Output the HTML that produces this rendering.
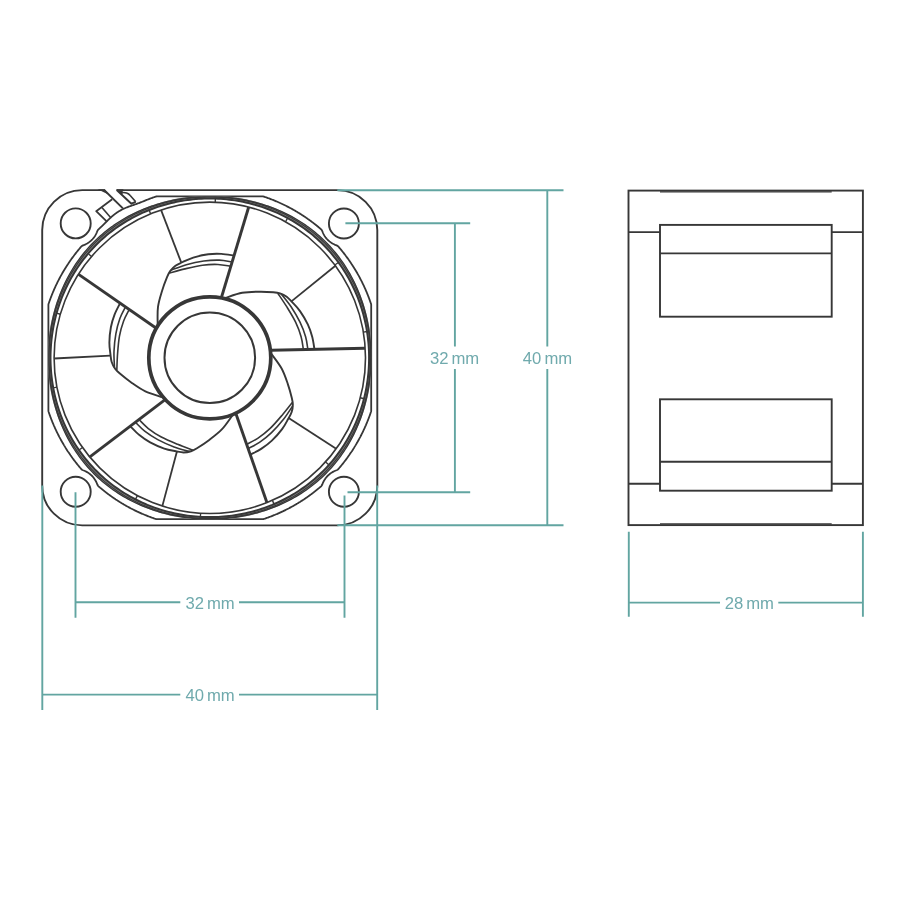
<!DOCTYPE html><html><head><meta charset="utf-8"><title>Fan dimensions</title><style>html,body{margin:0;padding:0;background:#fff;}body{width:900px;height:900px;overflow:hidden;font-family:"Liberation Sans",sans-serif;}svg{display:block;}</style></head><body>
<svg width="900" height="900" viewBox="0 0 900 900">
<rect width="900" height="900" fill="#fff"/>
<g fill="none" stroke="#373737" stroke-linecap="butt" stroke-linejoin="round">
<path d="M116.7,190.1 L337.3,190.1 A40,40 0 0 1 377.3,230.1 L377.3,485.4 A40,40 0 0 1 337.3,525.4 L82.2,525.4 A40,40 0 0 1 42.2,485.4 L42.2,230.1 A40,40 0 0 1 82.2,190.1 L103.9,190.1" stroke-width="1.9"/>
<circle cx="75.7" cy="223.4" r="15" stroke-width="1.9"/>
<circle cx="343.9" cy="223.5" r="15" stroke-width="1.9"/>
<circle cx="75.7" cy="491.8" r="15" stroke-width="1.9"/>
<circle cx="343.9" cy="491.8" r="15" stroke-width="1.9"/>
<path d="M103.9,189.7 L122.9,208.4" stroke-width="1.9"/>
<path d="M97.5,189.2 L104.8,189.2 L108.5,194.4 Z" fill="#373737" stroke="none"/>
<path d="M116.7,190 L131.4,203.7 L135.7,201.8" stroke-width="1.9"/>
<path d="M116.0,189.2 L123.5,189.2 L121.8,194.6 Z" fill="#373737" stroke="none"/>
<path d="M121.4,193.6 C122.2,192.2 124.4,192.3 126.6,193 Q128.8,193.8 130.2,195.5 L135.7,201.8" stroke-width="1.6"/>
<path d="M112.2,199.3 L96.2,211.2 L106.4,221.2" stroke-width="1.8"/>
<path d="M101.9,207.4 L110.6,217.6" stroke-width="1.6"/>
<defs><path id="cp" d="M48.40,357.80 L48.40,357.24 L48.40,356.67 L48.40,356.11 L48.40,355.55 L48.40,354.98 L48.40,354.42 L48.40,353.86 L48.40,353.29 L48.40,352.73 L48.40,352.16 L48.40,351.60 L48.40,351.04 L48.40,350.47 L48.40,349.91 L48.40,349.34 L48.40,348.78 L48.40,348.21 L48.40,347.65 L48.40,347.08 L48.40,346.51 L48.40,345.95 L48.40,345.38 L48.40,344.81 L48.40,344.25 L48.40,343.68 L48.40,343.11 L48.40,342.54 L48.40,341.97 L48.40,341.41 L48.40,340.84 L48.40,340.27 L48.40,339.70 L48.40,339.13 L48.40,338.55 L48.40,337.98 L48.40,337.41 L48.40,336.84 L48.40,336.26 L48.40,335.69 L48.40,335.12 L48.40,334.54 L48.40,333.97 L48.40,333.39 L48.40,332.81 L48.40,332.24 L48.40,331.66 L48.40,331.08 L48.40,330.50 L48.40,329.92 L48.40,329.34 L48.40,328.76 L48.40,328.18 L48.40,327.59 L48.40,327.01 L48.40,326.43 L48.40,325.84 L48.40,325.26 L48.40,324.67 L48.40,324.08 L48.40,323.49 L48.40,322.90 L48.40,322.31 L48.40,321.72 L48.40,321.13 L48.40,320.54 L48.40,319.94 L48.40,319.35 L48.40,318.75 L48.40,318.16 L48.40,317.56 L48.40,316.96 L48.40,316.36 L48.40,315.76 L48.40,315.16 L48.40,314.55 L48.40,313.95 L48.40,313.34 L48.40,312.74 L48.40,312.13 L48.40,311.52 L48.40,310.91 L48.40,310.30 L48.40,309.68 L48.40,309.07 L48.40,308.46 L48.40,307.84 L48.40,307.22 L48.40,306.60 L48.40,305.98 L48.40,305.36 L48.40,304.73 L48.49,304.14 L48.68,303.58 L48.87,303.01 L49.06,302.45 L49.26,301.89 L49.45,301.33 L49.65,300.77 L49.85,300.21 L50.05,299.66 L50.26,299.10 L50.46,298.54 L50.67,297.99 L50.88,297.43 L51.09,296.88 L51.30,296.32 L51.52,295.77 L51.74,295.22 L51.96,294.67 L52.18,294.12 L52.40,293.57 L52.63,293.02 L52.85,292.47 L53.08,291.92 L53.31,291.38 L53.55,290.83 L53.78,290.28 L54.02,289.74 L54.26,289.20 L54.50,288.65 L54.74,288.11 L54.98,287.57 L55.23,287.03 L55.48,286.49 L55.73,285.95 L55.98,285.42 L56.23,284.88 L56.49,284.35 L56.75,283.81 L57.01,283.28 L57.27,282.74 L57.53,282.21 L57.79,281.68 L58.06,281.15 L58.33,280.62 L58.60,280.09 L58.87,279.57 L59.15,279.04 L59.42,278.51 L59.70,277.99 L59.98,277.47 L60.26,276.94 L60.54,276.42 L60.83,275.90 L61.11,275.38 L61.40,274.86 L61.69,274.35 L61.99,273.83 L62.28,273.31 L62.58,272.80 L62.87,272.29 L63.17,271.77 L63.47,271.26 L63.78,270.75 L64.08,270.24 L64.39,269.74 L64.70,269.23 L65.01,268.72 L65.32,268.22 L65.63,267.71 L65.95,267.21 L66.26,266.71 L66.58,266.21 L66.90,265.71 L67.23,265.21 L67.55,264.71 L67.88,264.22 L68.20,263.72 L68.53,263.23 L68.86,262.74 L69.20,262.25 L69.53,261.76 L69.87,261.27 L70.20,260.78 L70.54,260.29 L70.89,259.81 L71.23,259.32 L71.57,258.84 L71.92,258.36 L72.27,257.88 L72.62,257.40 L72.97,256.92 L73.32,256.44 L73.68,255.97 L74.03,255.49 L74.39,255.02 L74.75,254.55 L75.11,254.08 L75.47,253.61 L75.84,253.14 L76.20,252.67 L76.57,252.20 L76.94,251.74 L77.31,251.28 L77.69,250.82 L78.06,250.36 L78.44,249.90 L78.81,249.44 L79.19,248.98 L79.57,248.53 L79.95,248.07 L80.34,247.62 L80.72,247.17 L81.11,246.72 L81.53,246.30 L82.01,245.93 L82.54,245.60 L83.11,245.32 L83.72,245.07 L84.34,244.83 L84.93,244.58 L85.51,244.31 L86.08,244.03 L86.63,243.74 L87.17,243.44 L87.69,243.13 L88.20,242.81 L88.69,242.47 L89.18,242.13 L89.65,241.77 L90.11,241.41 L90.56,241.03 L91.00,240.65 L91.43,240.25 L91.84,239.84 L92.25,239.43 L92.65,239.00 L93.03,238.56 L93.41,238.11 L93.77,237.65 L94.13,237.18 L94.47,236.69 L94.81,236.20 L95.13,235.69 L95.44,235.17 L95.74,234.63 L96.03,234.08 L96.31,233.51 L96.58,232.93 L96.83,232.34 L97.07,231.72 L97.32,231.11 L97.60,230.54 L97.93,230.01 L98.30,229.53 L98.71,229.10 L99.16,228.71 L99.60,228.31 L100.04,227.91 L100.48,227.51 L100.91,227.11 L101.35,226.70 L101.78,226.29 L102.21,225.88 L102.64,225.46 L103.06,225.05 L103.49,224.63 L103.92,224.21 L104.34,223.79 L104.77,223.36 L105.19,222.94 L105.62,222.51 L106.04,222.09 L106.47,221.66 L106.89,221.24 L107.32,220.81 L107.75,220.39 L108.18,219.97 L108.61,219.55 L109.05,219.13 L109.49,218.71 L109.93,218.30 L110.37,217.89 L110.81,217.48 L111.26,217.07 L111.71,216.67 L112.17,216.27 L112.63,215.88 L113.09,215.49 L113.55,215.11 L114.02,214.73 L114.50,214.36 L114.98,213.99 L115.46,213.63 L115.95,213.28 L116.44,212.93 L116.93,212.59 L117.43,212.25 L117.94,211.92 L118.45,211.60 L118.96,211.29 L119.47,210.98 L119.99,210.68 L120.52,210.38 L121.05,210.09 L121.58,209.81 L122.12,209.53 L122.65,209.26 L123.20,209.00 L123.74,208.74 L124.29,208.49 L124.84,208.25 L125.40,208.01 L125.95,207.77 L126.51,207.54 L127.07,207.32 L127.63,207.10 L128.20,206.88 L128.76,206.67 L129.33,206.46 L129.90,206.25 L130.46,206.05 L131.03,205.84 L131.60,205.64 L132.17,205.44 L132.74,205.25 L133.31,205.05 L133.88,204.85 L134.45,204.66 L135.01,204.46 L135.58,204.27 L136.14,204.07 L136.71,203.87 L137.27,203.67 L137.83,203.47 L138.40,203.27 L138.95,203.06 L139.51,202.85 L140.07,202.64 L140.62,202.43 L141.18,202.21 L141.73,201.99 L142.28,201.77 L142.83,201.54 L143.37,201.31 L143.92,201.08 L144.47,200.85 L145.02,200.63 L145.57,200.40 L146.12,200.18 L146.67,199.96 L147.22,199.74 L147.77,199.52 L148.32,199.30 L148.88,199.09 L149.43,198.88 L149.99,198.67 L150.54,198.46 L151.10,198.26 L151.66,198.05 L152.21,197.85 L152.77,197.65 L153.33,197.45 L153.89,197.26 L154.45,197.06 L155.01,196.87 L155.58,196.68 L156.14,196.49 L156.73,196.40 L157.36,196.40 L157.98,196.40 L158.60,196.40 L159.22,196.40 L159.84,196.40 L160.46,196.40 L161.07,196.40 L161.68,196.40 L162.30,196.40 L162.91,196.40 L163.52,196.40 L164.13,196.40 L164.74,196.40 L165.34,196.40 L165.95,196.40 L166.55,196.40 L167.16,196.40 L167.76,196.40 L168.36,196.40 L168.96,196.40 L169.56,196.40 L170.16,196.40 L170.75,196.40 L171.35,196.40 L171.94,196.40 L172.54,196.40 L173.13,196.40 L173.72,196.40 L174.31,196.40 L174.90,196.40 L175.49,196.40 L176.08,196.40 L176.67,196.40 L177.26,196.40 L177.84,196.40 L178.43,196.40 L179.01,196.40 L179.59,196.40 L180.18,196.40 L180.76,196.40 L181.34,196.40 L181.92,196.40 L182.50,196.40 L183.08,196.40 L183.66,196.40 L184.24,196.40 L184.81,196.40 L185.39,196.40 L185.97,196.40 L186.54,196.40 L187.12,196.40 L187.69,196.40 L188.26,196.40 L188.84,196.40 L189.41,196.40 L189.98,196.40 L190.55,196.40 L191.13,196.40 L191.70,196.40 L192.27,196.40 L192.84,196.40 L193.41,196.40 L193.97,196.40 L194.54,196.40 L195.11,196.40 L195.68,196.40 L196.25,196.40 L196.81,196.40 L197.38,196.40 L197.95,196.40 L198.51,196.40 L199.08,196.40 L199.65,196.40 L200.21,196.40 L200.78,196.40 L201.34,196.40 L201.91,196.40 L202.47,196.40 L203.04,196.40 L203.60,196.40 L204.16,196.40 L204.73,196.40 L205.29,196.40 L205.86,196.40 L206.42,196.40 L206.98,196.40 L207.55,196.40 L208.11,196.40 L208.67,196.40 L209.24,196.40 L209.80,196.40 L210.36,196.40 L210.93,196.40 L211.49,196.40 L212.05,196.40 L212.62,196.40 L213.18,196.40 L213.74,196.40 L214.31,196.40 L214.87,196.40 L215.44,196.40 L216.00,196.40 L216.56,196.40 L217.13,196.40 L217.69,196.40 L218.26,196.40 L218.82,196.40 L219.39,196.40 L219.95,196.40 L220.52,196.40 L221.09,196.40 L221.65,196.40 L222.22,196.40 L222.79,196.40 L223.35,196.40 L223.92,196.40 L224.49,196.40 L225.06,196.40 L225.63,196.40 L226.19,196.40 L226.76,196.40 L227.33,196.40 L227.90,196.40 L228.47,196.40 L229.05,196.40 L229.62,196.40 L230.19,196.40 L230.76,196.40 L231.34,196.40 L231.91,196.40 L232.48,196.40 L233.06,196.40 L233.63,196.40 L234.21,196.40 L234.79,196.40 L235.36,196.40 L235.94,196.40 L236.52,196.40 L237.10,196.40 L237.68,196.40 L238.26,196.40 L238.84,196.40 L239.42,196.40 L240.01,196.40 L240.59,196.40 L241.17,196.40 L241.76,196.40 L242.34,196.40 L242.93,196.40 L243.52,196.40 L244.11,196.40 L244.70,196.40 L245.29,196.40 L245.88,196.40 L246.47,196.40 L247.06,196.40 L247.66,196.40 L248.25,196.40 L248.85,196.40 L249.44,196.40 L250.04,196.40 L250.64,196.40 L251.24,196.40 L251.84,196.40 L252.44,196.40 L253.05,196.40 L253.65,196.40 L254.26,196.40 L254.86,196.40 L255.47,196.40 L256.08,196.40 L256.69,196.40 L257.30,196.40 L257.92,196.40 L258.53,196.40 L259.14,196.40 L259.76,196.40 L260.38,196.40 L261.00,196.40 L261.62,196.40 L262.24,196.40 L262.87,196.40 L263.46,196.49 L264.02,196.68 L264.59,196.87 L265.15,197.06 L265.71,197.26 L266.27,197.45 L266.83,197.65 L267.39,197.85 L267.94,198.05 L268.50,198.26 L269.06,198.46 L269.61,198.67 L270.17,198.88 L270.72,199.09 L271.28,199.30 L271.83,199.52 L272.38,199.74 L272.93,199.96 L273.48,200.18 L274.03,200.40 L274.58,200.63 L275.13,200.85 L275.68,201.08 L276.22,201.31 L276.77,201.55 L277.32,201.78 L277.86,202.02 L278.40,202.26 L278.95,202.50 L279.49,202.74 L280.03,202.98 L280.57,203.23 L281.11,203.48 L281.65,203.73 L282.18,203.98 L282.72,204.23 L283.25,204.49 L283.79,204.75 L284.32,205.01 L284.86,205.27 L285.39,205.53 L285.92,205.79 L286.45,206.06 L286.98,206.33 L287.51,206.60 L288.03,206.87 L288.56,207.15 L289.09,207.42 L289.61,207.70 L290.13,207.98 L290.66,208.26 L291.18,208.54 L291.70,208.83 L292.22,209.11 L292.74,209.40 L293.25,209.69 L293.77,209.99 L294.29,210.28 L294.80,210.58 L295.31,210.87 L295.83,211.17 L296.34,211.47 L296.85,211.78 L297.36,212.08 L297.86,212.39 L298.37,212.70 L298.88,213.01 L299.38,213.32 L299.89,213.63 L300.39,213.95 L300.89,214.26 L301.39,214.58 L301.89,214.90 L302.39,215.23 L302.89,215.55 L303.38,215.88 L303.88,216.20 L304.37,216.53 L304.86,216.86 L305.35,217.20 L305.84,217.53 L306.33,217.87 L306.82,218.20 L307.31,218.54 L307.79,218.89 L308.28,219.23 L308.76,219.57 L309.24,219.92 L309.72,220.27 L310.20,220.62 L310.68,220.97 L311.16,221.32 L311.63,221.68 L312.11,222.03 L312.58,222.39 L313.05,222.75 L313.52,223.11 L313.99,223.47 L314.46,223.84 L314.93,224.20 L315.40,224.57 L315.86,224.94 L316.32,225.31 L316.78,225.69 L317.24,226.06 L317.70,226.44 L318.16,226.81 L318.62,227.19 L319.07,227.57 L319.53,227.95 L319.98,228.34 L320.43,228.72 L320.88,229.11 L321.30,229.53 L321.67,230.01 L322.00,230.54 L322.28,231.11 L322.53,231.72 L322.77,232.34 L323.02,232.93 L323.29,233.51 L323.57,234.08 L323.86,234.63 L324.16,235.17 L324.47,235.69 L324.79,236.20 L325.13,236.69 L325.47,237.18 L325.83,237.65 L326.19,238.11 L326.57,238.56 L326.95,239.00 L327.35,239.43 L327.76,239.84 L328.17,240.25 L328.60,240.65 L329.04,241.03 L329.49,241.41 L329.95,241.77 L330.42,242.13 L330.91,242.47 L331.40,242.81 L331.91,243.13 L332.43,243.44 L332.97,243.74 L333.52,244.03 L334.09,244.31 L334.67,244.58 L335.26,244.83 L335.88,245.07 L336.49,245.32 L337.06,245.60 L337.59,245.93 L338.07,246.30 L338.49,246.72 L338.88,247.17 L339.26,247.62 L339.65,248.07 L340.03,248.53 L340.41,248.98 L340.79,249.44 L341.16,249.90 L341.54,250.36 L341.91,250.82 L342.29,251.28 L342.66,251.74 L343.03,252.20 L343.40,252.67 L343.76,253.14 L344.13,253.61 L344.49,254.08 L344.85,254.55 L345.21,255.02 L345.57,255.49 L345.92,255.97 L346.28,256.44 L346.63,256.92 L346.98,257.40 L347.33,257.88 L347.68,258.36 L348.03,258.84 L348.37,259.32 L348.71,259.81 L349.06,260.29 L349.40,260.78 L349.73,261.27 L350.07,261.76 L350.40,262.25 L350.74,262.74 L351.07,263.23 L351.40,263.72 L351.72,264.22 L352.05,264.71 L352.37,265.21 L352.70,265.71 L353.02,266.21 L353.34,266.71 L353.65,267.21 L353.97,267.71 L354.28,268.22 L354.59,268.72 L354.90,269.23 L355.21,269.74 L355.52,270.24 L355.82,270.75 L356.13,271.26 L356.43,271.77 L356.73,272.29 L357.02,272.80 L357.32,273.31 L357.61,273.83 L357.91,274.35 L358.20,274.86 L358.49,275.38 L358.77,275.90 L359.06,276.42 L359.34,276.94 L359.62,277.47 L359.90,277.99 L360.18,278.51 L360.45,279.04 L360.73,279.57 L361.00,280.09 L361.27,280.62 L361.54,281.15 L361.81,281.68 L362.07,282.21 L362.33,282.74 L362.59,283.28 L362.85,283.81 L363.11,284.35 L363.37,284.88 L363.62,285.42 L363.87,285.95 L364.12,286.49 L364.37,287.03 L364.62,287.57 L364.86,288.11 L365.10,288.65 L365.34,289.20 L365.58,289.74 L365.82,290.28 L366.05,290.83 L366.29,291.38 L366.52,291.92 L366.75,292.47 L366.97,293.02 L367.20,293.57 L367.42,294.12 L367.64,294.67 L367.86,295.22 L368.08,295.77 L368.30,296.32 L368.51,296.88 L368.72,297.43 L368.93,297.99 L369.14,298.54 L369.34,299.10 L369.55,299.66 L369.75,300.21 L369.95,300.77 L370.15,301.33 L370.34,301.89 L370.54,302.45 L370.73,303.01 L370.92,303.58 L371.11,304.14 L371.20,304.73 L371.20,305.36 L371.20,305.98 L371.20,306.60 L371.20,307.22 L371.20,307.84 L371.20,308.46 L371.20,309.07 L371.20,309.68 L371.20,310.30 L371.20,310.91 L371.20,311.52 L371.20,312.13 L371.20,312.74 L371.20,313.34 L371.20,313.95 L371.20,314.55 L371.20,315.16 L371.20,315.76 L371.20,316.36 L371.20,316.96 L371.20,317.56 L371.20,318.16 L371.20,318.75 L371.20,319.35 L371.20,319.94 L371.20,320.54 L371.20,321.13 L371.20,321.72 L371.20,322.31 L371.20,322.90 L371.20,323.49 L371.20,324.08 L371.20,324.67 L371.20,325.26 L371.20,325.84 L371.20,326.43 L371.20,327.01 L371.20,327.59 L371.20,328.18 L371.20,328.76 L371.20,329.34 L371.20,329.92 L371.20,330.50 L371.20,331.08 L371.20,331.66 L371.20,332.24 L371.20,332.81 L371.20,333.39 L371.20,333.97 L371.20,334.54 L371.20,335.12 L371.20,335.69 L371.20,336.26 L371.20,336.84 L371.20,337.41 L371.20,337.98 L371.20,338.55 L371.20,339.13 L371.20,339.70 L371.20,340.27 L371.20,340.84 L371.20,341.41 L371.20,341.97 L371.20,342.54 L371.20,343.11 L371.20,343.68 L371.20,344.25 L371.20,344.81 L371.20,345.38 L371.20,345.95 L371.20,346.51 L371.20,347.08 L371.20,347.65 L371.20,348.21 L371.20,348.78 L371.20,349.34 L371.20,349.91 L371.20,350.47 L371.20,351.04 L371.20,351.60 L371.20,352.16 L371.20,352.73 L371.20,353.29 L371.20,353.86 L371.20,354.42 L371.20,354.98 L371.20,355.55 L371.20,356.11 L371.20,356.67 L371.20,357.24 L371.20,357.80 L371.20,358.36 L371.20,358.93 L371.20,359.49 L371.20,360.05 L371.20,360.62 L371.20,361.18 L371.20,361.74 L371.20,362.31 L371.20,362.87 L371.20,363.44 L371.20,364.00 L371.20,364.56 L371.20,365.13 L371.20,365.69 L371.20,366.26 L371.20,366.82 L371.20,367.39 L371.20,367.95 L371.20,368.52 L371.20,369.09 L371.20,369.65 L371.20,370.22 L371.20,370.79 L371.20,371.35 L371.20,371.92 L371.20,372.49 L371.20,373.06 L371.20,373.63 L371.20,374.19 L371.20,374.76 L371.20,375.33 L371.20,375.90 L371.20,376.47 L371.20,377.05 L371.20,377.62 L371.20,378.19 L371.20,378.76 L371.20,379.34 L371.20,379.91 L371.20,380.48 L371.20,381.06 L371.20,381.63 L371.20,382.21 L371.20,382.79 L371.20,383.36 L371.20,383.94 L371.20,384.52 L371.20,385.10 L371.20,385.68 L371.20,386.26 L371.20,386.84 L371.20,387.42 L371.20,388.01 L371.20,388.59 L371.20,389.17 L371.20,389.76 L371.20,390.34 L371.20,390.93 L371.20,391.52 L371.20,392.11 L371.20,392.70 L371.20,393.29 L371.20,393.88 L371.20,394.47 L371.20,395.06 L371.20,395.66 L371.20,396.25 L371.20,396.85 L371.20,397.44 L371.20,398.04 L371.20,398.64 L371.20,399.24 L371.20,399.84 L371.20,400.44 L371.20,401.05 L371.20,401.65 L371.20,402.26 L371.20,402.86 L371.20,403.47 L371.20,404.08 L371.20,404.69 L371.20,405.30 L371.20,405.92 L371.20,406.53 L371.20,407.14 L371.20,407.76 L371.20,408.38 L371.20,409.00 L371.20,409.62 L371.20,410.24 L371.20,410.87 L371.11,411.46 L370.92,412.02 L370.73,412.59 L370.54,413.15 L370.34,413.71 L370.15,414.27 L369.95,414.83 L369.75,415.39 L369.55,415.94 L369.34,416.50 L369.14,417.06 L368.93,417.61 L368.72,418.17 L368.51,418.72 L368.30,419.28 L368.08,419.83 L367.86,420.38 L367.64,420.93 L367.42,421.48 L367.20,422.03 L366.97,422.58 L366.75,423.13 L366.52,423.68 L366.29,424.22 L366.05,424.77 L365.82,425.32 L365.58,425.86 L365.34,426.40 L365.10,426.95 L364.86,427.49 L364.62,428.03 L364.37,428.57 L364.12,429.11 L363.87,429.65 L363.62,430.18 L363.37,430.72 L363.11,431.25 L362.85,431.79 L362.59,432.32 L362.33,432.86 L362.07,433.39 L361.81,433.92 L361.54,434.45 L361.27,434.98 L361.00,435.51 L360.73,436.03 L360.45,436.56 L360.18,437.09 L359.90,437.61 L359.62,438.13 L359.34,438.66 L359.06,439.18 L358.77,439.70 L358.49,440.22 L358.20,440.74 L357.91,441.25 L357.61,441.77 L357.32,442.29 L357.02,442.80 L356.73,443.31 L356.43,443.83 L356.13,444.34 L355.82,444.85 L355.52,445.36 L355.21,445.86 L354.90,446.37 L354.59,446.88 L354.28,447.38 L353.97,447.89 L353.65,448.39 L353.34,448.89 L353.02,449.39 L352.70,449.89 L352.37,450.39 L352.05,450.89 L351.72,451.38 L351.40,451.88 L351.07,452.37 L350.74,452.86 L350.40,453.35 L350.07,453.84 L349.73,454.33 L349.40,454.82 L349.06,455.31 L348.71,455.79 L348.37,456.28 L348.03,456.76 L347.68,457.24 L347.33,457.72 L346.98,458.20 L346.63,458.68 L346.28,459.16 L345.92,459.63 L345.57,460.11 L345.21,460.58 L344.85,461.05 L344.49,461.52 L344.13,461.99 L343.76,462.46 L343.40,462.93 L343.03,463.40 L342.66,463.86 L342.29,464.32 L341.91,464.78 L341.54,465.24 L341.16,465.70 L340.79,466.16 L340.41,466.62 L340.03,467.07 L339.65,467.53 L339.26,467.98 L338.88,468.43 L338.49,468.88 L338.07,469.30 L337.59,469.67 L337.06,470.00 L336.49,470.28 L335.88,470.53 L335.26,470.77 L334.67,471.02 L334.09,471.29 L333.52,471.57 L332.97,471.86 L332.43,472.16 L331.91,472.47 L331.40,472.79 L330.91,473.13 L330.42,473.47 L329.95,473.83 L329.49,474.19 L329.04,474.57 L328.60,474.95 L328.17,475.35 L327.76,475.76 L327.35,476.17 L326.95,476.60 L326.57,477.04 L326.19,477.49 L325.83,477.95 L325.47,478.42 L325.13,478.91 L324.79,479.40 L324.47,479.91 L324.16,480.43 L323.86,480.97 L323.57,481.52 L323.29,482.09 L323.02,482.67 L322.77,483.26 L322.53,483.88 L322.28,484.49 L322.00,485.06 L321.67,485.59 L321.30,486.07 L320.88,486.49 L320.43,486.88 L319.98,487.26 L319.53,487.65 L319.07,488.03 L318.62,488.41 L318.16,488.79 L317.70,489.16 L317.24,489.54 L316.78,489.91 L316.32,490.29 L315.86,490.66 L315.40,491.03 L314.93,491.40 L314.46,491.76 L313.99,492.13 L313.52,492.49 L313.05,492.85 L312.58,493.21 L312.11,493.57 L311.63,493.92 L311.16,494.28 L310.68,494.63 L310.20,494.98 L309.72,495.33 L309.24,495.68 L308.76,496.03 L308.28,496.37 L307.79,496.71 L307.31,497.06 L306.82,497.40 L306.33,497.73 L305.84,498.07 L305.35,498.40 L304.86,498.74 L304.37,499.07 L303.88,499.40 L303.38,499.72 L302.89,500.05 L302.39,500.37 L301.89,500.70 L301.39,501.02 L300.89,501.34 L300.39,501.65 L299.89,501.97 L299.38,502.28 L298.88,502.59 L298.37,502.90 L297.86,503.21 L297.36,503.52 L296.85,503.82 L296.34,504.13 L295.83,504.43 L295.31,504.73 L294.80,505.02 L294.29,505.32 L293.77,505.61 L293.25,505.91 L292.74,506.20 L292.22,506.49 L291.70,506.77 L291.18,507.06 L290.66,507.34 L290.13,507.62 L289.61,507.90 L289.09,508.18 L288.56,508.45 L288.03,508.73 L287.51,509.00 L286.98,509.27 L286.45,509.54 L285.92,509.81 L285.39,510.07 L284.86,510.33 L284.32,510.59 L283.79,510.85 L283.25,511.11 L282.72,511.37 L282.18,511.62 L281.65,511.87 L281.11,512.12 L280.57,512.37 L280.03,512.62 L279.49,512.86 L278.95,513.10 L278.40,513.34 L277.86,513.58 L277.32,513.82 L276.77,514.05 L276.22,514.29 L275.68,514.52 L275.13,514.75 L274.58,514.97 L274.03,515.20 L273.48,515.42 L272.93,515.64 L272.38,515.86 L271.83,516.08 L271.28,516.30 L270.72,516.51 L270.17,516.72 L269.61,516.93 L269.06,517.14 L268.50,517.34 L267.94,517.55 L267.39,517.75 L266.83,517.95 L266.27,518.15 L265.71,518.34 L265.15,518.54 L264.59,518.73 L264.02,518.92 L263.46,519.11 L262.87,519.20 L262.24,519.20 L261.62,519.20 L261.00,519.20 L260.38,519.20 L259.76,519.20 L259.14,519.20 L258.53,519.20 L257.92,519.20 L257.30,519.20 L256.69,519.20 L256.08,519.20 L255.47,519.20 L254.86,519.20 L254.26,519.20 L253.65,519.20 L253.05,519.20 L252.44,519.20 L251.84,519.20 L251.24,519.20 L250.64,519.20 L250.04,519.20 L249.44,519.20 L248.85,519.20 L248.25,519.20 L247.66,519.20 L247.06,519.20 L246.47,519.20 L245.88,519.20 L245.29,519.20 L244.70,519.20 L244.11,519.20 L243.52,519.20 L242.93,519.20 L242.34,519.20 L241.76,519.20 L241.17,519.20 L240.59,519.20 L240.01,519.20 L239.42,519.20 L238.84,519.20 L238.26,519.20 L237.68,519.20 L237.10,519.20 L236.52,519.20 L235.94,519.20 L235.36,519.20 L234.79,519.20 L234.21,519.20 L233.63,519.20 L233.06,519.20 L232.48,519.20 L231.91,519.20 L231.34,519.20 L230.76,519.20 L230.19,519.20 L229.62,519.20 L229.05,519.20 L228.47,519.20 L227.90,519.20 L227.33,519.20 L226.76,519.20 L226.19,519.20 L225.63,519.20 L225.06,519.20 L224.49,519.20 L223.92,519.20 L223.35,519.20 L222.79,519.20 L222.22,519.20 L221.65,519.20 L221.09,519.20 L220.52,519.20 L219.95,519.20 L219.39,519.20 L218.82,519.20 L218.26,519.20 L217.69,519.20 L217.13,519.20 L216.56,519.20 L216.00,519.20 L215.44,519.20 L214.87,519.20 L214.31,519.20 L213.74,519.20 L213.18,519.20 L212.62,519.20 L212.05,519.20 L211.49,519.20 L210.93,519.20 L210.36,519.20 L209.80,519.20 L209.24,519.20 L208.67,519.20 L208.11,519.20 L207.55,519.20 L206.98,519.20 L206.42,519.20 L205.86,519.20 L205.29,519.20 L204.73,519.20 L204.16,519.20 L203.60,519.20 L203.04,519.20 L202.47,519.20 L201.91,519.20 L201.34,519.20 L200.78,519.20 L200.21,519.20 L199.65,519.20 L199.08,519.20 L198.51,519.20 L197.95,519.20 L197.38,519.20 L196.81,519.20 L196.25,519.20 L195.68,519.20 L195.11,519.20 L194.54,519.20 L193.97,519.20 L193.41,519.20 L192.84,519.20 L192.27,519.20 L191.70,519.20 L191.13,519.20 L190.55,519.20 L189.98,519.20 L189.41,519.20 L188.84,519.20 L188.26,519.20 L187.69,519.20 L187.12,519.20 L186.54,519.20 L185.97,519.20 L185.39,519.20 L184.81,519.20 L184.24,519.20 L183.66,519.20 L183.08,519.20 L182.50,519.20 L181.92,519.20 L181.34,519.20 L180.76,519.20 L180.18,519.20 L179.59,519.20 L179.01,519.20 L178.43,519.20 L177.84,519.20 L177.26,519.20 L176.67,519.20 L176.08,519.20 L175.49,519.20 L174.90,519.20 L174.31,519.20 L173.72,519.20 L173.13,519.20 L172.54,519.20 L171.94,519.20 L171.35,519.20 L170.75,519.20 L170.16,519.20 L169.56,519.20 L168.96,519.20 L168.36,519.20 L167.76,519.20 L167.16,519.20 L166.55,519.20 L165.95,519.20 L165.34,519.20 L164.74,519.20 L164.13,519.20 L163.52,519.20 L162.91,519.20 L162.30,519.20 L161.68,519.20 L161.07,519.20 L160.46,519.20 L159.84,519.20 L159.22,519.20 L158.60,519.20 L157.98,519.20 L157.36,519.20 L156.73,519.20 L156.14,519.11 L155.58,518.92 L155.01,518.73 L154.45,518.54 L153.89,518.34 L153.33,518.15 L152.77,517.95 L152.21,517.75 L151.66,517.55 L151.10,517.34 L150.54,517.14 L149.99,516.93 L149.43,516.72 L148.88,516.51 L148.32,516.30 L147.77,516.08 L147.22,515.86 L146.67,515.64 L146.12,515.42 L145.57,515.20 L145.02,514.97 L144.47,514.75 L143.92,514.52 L143.38,514.29 L142.83,514.05 L142.28,513.82 L141.74,513.58 L141.20,513.34 L140.65,513.10 L140.11,512.86 L139.57,512.62 L139.03,512.37 L138.49,512.12 L137.95,511.87 L137.42,511.62 L136.88,511.37 L136.35,511.11 L135.81,510.85 L135.28,510.59 L134.74,510.33 L134.21,510.07 L133.68,509.81 L133.15,509.54 L132.62,509.27 L132.09,509.00 L131.57,508.73 L131.04,508.45 L130.51,508.18 L129.99,507.90 L129.47,507.62 L128.94,507.34 L128.42,507.06 L127.90,506.77 L127.38,506.49 L126.86,506.20 L126.35,505.91 L125.83,505.61 L125.31,505.32 L124.80,505.02 L124.29,504.73 L123.77,504.43 L123.26,504.13 L122.75,503.82 L122.24,503.52 L121.74,503.21 L121.23,502.90 L120.72,502.59 L120.22,502.28 L119.71,501.97 L119.21,501.65 L118.71,501.34 L118.21,501.02 L117.71,500.70 L117.21,500.37 L116.71,500.05 L116.22,499.72 L115.72,499.40 L115.23,499.07 L114.74,498.74 L114.25,498.40 L113.76,498.07 L113.27,497.73 L112.78,497.40 L112.29,497.06 L111.81,496.71 L111.32,496.37 L110.84,496.03 L110.36,495.68 L109.88,495.33 L109.40,494.98 L108.92,494.63 L108.44,494.28 L107.97,493.92 L107.49,493.57 L107.02,493.21 L106.55,492.85 L106.08,492.49 L105.61,492.13 L105.14,491.76 L104.67,491.40 L104.20,491.03 L103.74,490.66 L103.28,490.29 L102.82,489.91 L102.36,489.54 L101.90,489.16 L101.44,488.79 L100.98,488.41 L100.53,488.03 L100.07,487.65 L99.62,487.26 L99.17,486.88 L98.72,486.49 L98.30,486.07 L97.93,485.59 L97.60,485.06 L97.32,484.49 L97.07,483.88 L96.83,483.26 L96.58,482.67 L96.31,482.09 L96.03,481.52 L95.74,480.97 L95.44,480.43 L95.13,479.91 L94.81,479.40 L94.47,478.91 L94.13,478.42 L93.77,477.95 L93.41,477.49 L93.03,477.04 L92.65,476.60 L92.25,476.17 L91.84,475.76 L91.43,475.35 L91.00,474.95 L90.56,474.57 L90.11,474.19 L89.65,473.83 L89.18,473.47 L88.69,473.13 L88.20,472.79 L87.69,472.47 L87.17,472.16 L86.63,471.86 L86.08,471.57 L85.51,471.29 L84.93,471.02 L84.34,470.77 L83.72,470.53 L83.11,470.28 L82.54,470.00 L82.01,469.67 L81.53,469.30 L81.11,468.88 L80.72,468.43 L80.34,467.98 L79.95,467.53 L79.57,467.07 L79.19,466.62 L78.81,466.16 L78.44,465.70 L78.06,465.24 L77.69,464.78 L77.31,464.32 L76.94,463.86 L76.57,463.40 L76.20,462.93 L75.84,462.46 L75.47,461.99 L75.11,461.52 L74.75,461.05 L74.39,460.58 L74.03,460.11 L73.68,459.63 L73.32,459.16 L72.97,458.68 L72.62,458.20 L72.27,457.72 L71.92,457.24 L71.57,456.76 L71.23,456.28 L70.89,455.79 L70.54,455.31 L70.20,454.82 L69.87,454.33 L69.53,453.84 L69.20,453.35 L68.86,452.86 L68.53,452.37 L68.20,451.88 L67.88,451.38 L67.55,450.89 L67.23,450.39 L66.90,449.89 L66.58,449.39 L66.26,448.89 L65.95,448.39 L65.63,447.89 L65.32,447.38 L65.01,446.88 L64.70,446.37 L64.39,445.86 L64.08,445.36 L63.78,444.85 L63.47,444.34 L63.17,443.83 L62.87,443.31 L62.58,442.80 L62.28,442.29 L61.99,441.77 L61.69,441.25 L61.40,440.74 L61.11,440.22 L60.83,439.70 L60.54,439.18 L60.26,438.66 L59.98,438.13 L59.70,437.61 L59.42,437.09 L59.15,436.56 L58.87,436.03 L58.60,435.51 L58.33,434.98 L58.06,434.45 L57.79,433.92 L57.53,433.39 L57.27,432.86 L57.01,432.32 L56.75,431.79 L56.49,431.25 L56.23,430.72 L55.98,430.18 L55.73,429.65 L55.48,429.11 L55.23,428.57 L54.98,428.03 L54.74,427.49 L54.50,426.95 L54.26,426.40 L54.02,425.86 L53.78,425.32 L53.55,424.77 L53.31,424.22 L53.08,423.68 L52.85,423.13 L52.63,422.58 L52.40,422.03 L52.18,421.48 L51.96,420.93 L51.74,420.38 L51.52,419.83 L51.30,419.28 L51.09,418.72 L50.88,418.17 L50.67,417.61 L50.46,417.06 L50.26,416.50 L50.05,415.94 L49.85,415.39 L49.65,414.83 L49.45,414.27 L49.26,413.71 L49.06,413.15 L48.87,412.59 L48.68,412.02 L48.49,411.46 L48.40,410.87 L48.40,410.24 L48.40,409.62 L48.40,409.00 L48.40,408.38 L48.40,407.76 L48.40,407.14 L48.40,406.53 L48.40,405.92 L48.40,405.30 L48.40,404.69 L48.40,404.08 L48.40,403.47 L48.40,402.86 L48.40,402.26 L48.40,401.65 L48.40,401.05 L48.40,400.44 L48.40,399.84 L48.40,399.24 L48.40,398.64 L48.40,398.04 L48.40,397.44 L48.40,396.85 L48.40,396.25 L48.40,395.66 L48.40,395.06 L48.40,394.47 L48.40,393.88 L48.40,393.29 L48.40,392.70 L48.40,392.11 L48.40,391.52 L48.40,390.93 L48.40,390.34 L48.40,389.76 L48.40,389.17 L48.40,388.59 L48.40,388.01 L48.40,387.42 L48.40,386.84 L48.40,386.26 L48.40,385.68 L48.40,385.10 L48.40,384.52 L48.40,383.94 L48.40,383.36 L48.40,382.79 L48.40,382.21 L48.40,381.63 L48.40,381.06 L48.40,380.48 L48.40,379.91 L48.40,379.34 L48.40,378.76 L48.40,378.19 L48.40,377.62 L48.40,377.05 L48.40,376.47 L48.40,375.90 L48.40,375.33 L48.40,374.76 L48.40,374.19 L48.40,373.63 L48.40,373.06 L48.40,372.49 L48.40,371.92 L48.40,371.35 L48.40,370.79 L48.40,370.22 L48.40,369.65 L48.40,369.09 L48.40,368.52 L48.40,367.95 L48.40,367.39 L48.40,366.82 L48.40,366.26 L48.40,365.69 L48.40,365.13 L48.40,364.56 L48.40,364.00 L48.40,363.44 L48.40,362.87 L48.40,362.31 L48.40,361.74 L48.40,361.18 L48.40,360.62 L48.40,360.05 L48.40,359.49 L48.40,358.93 L48.40,358.36Z"/></defs>
<use href="#cp" stroke-width="1.8"/>
<clipPath id="cc"><use href="#cp"/></clipPath>
<circle cx="209.8" cy="357.8" r="155.7" stroke-width="1.6"/>
<g clip-path="url(#cc)">
<path d="M370.40,357.80 L370.38,360.60 L370.31,363.41 L370.20,366.21 L370.04,369.01 L369.84,371.80 L369.59,374.59 L369.30,377.38 L368.96,380.17 L368.57,382.95 L368.14,385.72 L367.67,388.49 L367.15,391.25 L366.58,394.00 L365.97,396.74 L365.31,399.47 L364.61,402.19 L363.86,404.90 L363.07,407.60 L362.22,410.28 L361.34,412.95 L360.40,415.61 L359.42,418.25 L358.40,420.87 L357.32,423.48 L356.20,426.07 L355.04,428.64 L353.83,431.19 L352.57,433.71 L351.27,436.22 L349.92,438.70 L348.53,441.16 L347.09,443.59 L345.61,446.00 L344.08,448.38 L342.51,450.73 L340.90,453.05 L339.24,455.34 L337.54,457.60 L335.80,459.83 L334.02,462.03 L332.19,464.19 L330.33,466.32 L328.42,468.41 L326.48,470.47 L324.49,472.49 L322.47,474.48 L320.41,476.42 L318.32,478.33 L316.19,480.19 L314.03,482.02 L311.83,483.80 L309.60,485.54 L307.34,487.24 L305.05,488.90 L302.73,490.51 L300.38,492.08 L298.00,493.61 L295.59,495.09 L293.16,496.53 L290.70,497.92 L288.22,499.27 L285.71,500.57 L283.19,501.83 L280.64,503.04 L278.07,504.20 L275.48,505.32 L272.87,506.40 L270.25,507.42 L267.61,508.40 L264.95,509.34 L262.28,510.22 L259.60,511.07 L256.90,511.86 L254.19,512.61 L251.47,513.31 L248.74,513.97 L246.00,514.58 L243.25,515.15 L240.49,515.67 L237.72,516.14 L234.95,516.57 L232.17,516.96 L229.38,517.30 L226.59,517.59 L223.80,517.84 L221.01,518.04 L218.21,518.20 L215.41,518.31 L212.60,518.38 L209.80,518.40 L207.00,518.38 L204.19,518.31 L201.39,518.20 L198.59,518.04 L195.80,517.84 L193.01,517.59 L190.22,517.30 L187.43,516.96 L184.65,516.57 L181.88,516.14 L179.11,515.67 L176.35,515.15 L173.60,514.58 L170.86,513.97 L168.13,513.31 L165.41,512.61 L162.70,511.86 L160.00,511.07 L157.32,510.22 L154.65,509.34 L151.99,508.40 L149.35,507.42 L146.73,506.40 L144.12,505.32 L141.53,504.20 L138.96,503.04 L136.41,501.83 L133.89,500.57 L131.38,499.27 L128.90,497.92 L126.44,496.53 L124.01,495.09 L121.60,493.61 L119.22,492.08 L116.87,490.51 L114.55,488.90 L112.26,487.24 L110.00,485.54 L107.77,483.80 L105.57,482.02 L103.41,480.19 L101.28,478.33 L99.19,476.42 L97.13,474.48 L95.11,472.49 L93.12,470.47 L91.18,468.41 L89.27,466.32 L87.41,464.19 L85.58,462.03 L83.80,459.83 L82.06,457.60 L80.36,455.34 L78.70,453.05 L77.09,450.73 L75.52,448.38 L73.99,446.00 L72.51,443.59 L71.07,441.16 L69.68,438.70 L68.33,436.22 L67.03,433.71 L65.77,431.19 L64.56,428.64 L63.40,426.07 L62.28,423.48 L61.20,420.87 L60.18,418.25 L59.20,415.61 L58.26,412.95 L57.38,410.28 L56.53,407.60 L55.74,404.90 L54.99,402.19 L54.29,399.47 L53.63,396.74 L53.02,394.00 L52.45,391.25 L51.93,388.49 L51.46,385.72 L51.03,382.95 L50.64,380.17 L50.30,377.38 L50.01,374.59 L49.76,371.80 L49.56,369.01 L49.40,366.21 L49.29,363.41 L49.22,360.60 L49.20,357.80 L49.22,355.00 L49.29,352.19 L49.40,349.39 L49.56,346.59 L49.76,343.80 L50.01,341.01 L50.30,338.22 L50.64,335.43 L51.03,332.65 L51.46,329.88 L51.93,327.11 L52.45,324.35 L53.02,321.60 L53.63,318.86 L54.29,316.13 L54.99,313.41 L55.74,310.70 L56.53,308.00 L57.38,305.32 L58.26,302.65 L59.20,299.99 L60.18,297.35 L61.20,294.73 L62.28,292.12 L63.40,289.53 L64.56,286.96 L65.77,284.41 L67.03,281.89 L68.33,279.38 L69.68,276.90 L71.07,274.44 L72.51,272.01 L73.99,269.60 L75.52,267.22 L77.09,264.87 L78.70,262.55 L80.36,260.26 L82.06,258.00 L83.80,255.77 L85.58,253.57 L87.41,251.41 L89.27,249.28 L91.18,247.19 L93.12,245.13 L95.11,243.11 L97.13,241.12 L99.19,239.18 L101.28,237.27 L103.41,235.41 L105.57,233.58 L107.77,231.80 L110.00,230.06 L112.26,228.36 L114.55,226.70 L116.87,225.09 L119.22,223.52 L121.60,221.99 L124.01,220.51 L126.44,219.07 L128.90,217.68 L131.38,216.33 L133.89,215.03 L136.41,213.77 L138.96,212.56 L141.53,211.40 L144.12,210.28 L146.73,209.20 L149.35,208.18 L151.99,207.20 L154.65,206.26 L157.32,205.38 L160.00,204.53 L162.70,203.74 L165.41,202.99 L168.13,202.29 L170.86,201.63 L173.60,201.02 L176.35,200.45 L179.11,199.93 L181.88,199.46 L184.65,199.03 L187.43,198.64 L190.22,198.30 L193.01,198.01 L195.80,197.76 L198.59,197.56 L201.39,197.40 L204.19,197.29 L207.00,197.22 L209.80,197.20 L212.60,197.22 L215.41,197.29 L218.21,197.40 L221.01,197.56 L223.80,197.76 L226.59,198.01 L229.38,198.30 L232.17,198.64 L234.95,199.03 L237.72,199.46 L240.49,199.93 L243.25,200.45 L246.00,201.02 L248.74,201.63 L251.47,202.29 L254.19,202.99 L256.90,203.74 L259.60,204.53 L262.28,205.38 L264.95,206.26 L267.61,207.20 L270.25,208.18 L272.87,209.20 L275.48,210.28 L278.07,211.40 L280.64,212.56 L283.19,213.77 L285.71,215.03 L288.22,216.33 L290.70,217.68 L293.16,219.07 L295.59,220.51 L298.00,221.99 L300.38,223.52 L302.73,225.09 L305.05,226.70 L307.34,228.36 L309.60,230.06 L311.83,231.80 L314.03,233.58 L316.19,235.41 L318.32,237.27 L320.41,239.18 L322.47,241.12 L324.49,243.11 L326.48,245.13 L328.42,247.19 L330.33,249.28 L332.19,251.41 L334.02,253.57 L335.80,255.77 L337.54,258.00 L339.24,260.26 L340.90,262.55 L342.51,264.87 L344.08,267.22 L345.61,269.60 L347.09,272.01 L348.53,274.44 L349.92,276.90 L351.27,279.38 L352.57,281.89 L353.83,284.41 L355.04,286.96 L356.20,289.53 L357.32,292.12 L358.40,294.73 L359.42,297.35 L360.40,299.99 L361.34,302.65 L362.22,305.32 L363.07,308.00 L363.86,310.70 L364.61,313.41 L365.31,316.13 L365.97,318.86 L366.58,321.60 L367.15,324.35 L367.67,327.11 L368.14,329.88 L368.57,332.65 L368.96,335.43 L369.30,338.22 L369.59,341.01 L369.84,343.80 L370.04,346.59 L370.20,349.39 L370.31,352.19 L370.38,355.00Z" stroke-width="3.4" stroke="#8c8c8c"/>
<path d="M369.10,357.80 L369.08,360.58 L369.01,363.36 L368.89,366.14 L368.73,368.91 L368.52,371.69 L368.27,374.46 L367.96,377.22 L367.62,379.98 L367.22,382.73 L366.78,385.48 L366.30,388.22 L365.76,390.95 L365.19,393.67 L364.56,396.39 L363.89,399.09 L363.17,401.78 L362.41,404.46 L361.60,407.12 L360.74,409.77 L359.84,412.41 L358.90,415.03 L357.90,417.64 L356.87,420.23 L355.78,422.80 L354.65,425.35 L353.48,427.88 L352.26,430.39 L351.00,432.88 L349.69,435.34 L348.34,437.79 L346.95,440.21 L345.51,442.60 L344.03,444.97 L342.51,447.31 L340.94,449.63 L339.33,451.91 L337.69,454.17 L336.00,456.40 L334.27,458.59 L332.50,460.76 L330.69,462.89 L328.84,464.99 L326.96,467.05 L325.04,469.08 L323.08,471.08 L321.08,473.04 L319.05,474.96 L316.99,476.84 L314.89,478.69 L312.76,480.50 L310.59,482.27 L308.40,484.00 L306.17,485.69 L303.91,487.33 L301.63,488.94 L299.31,490.51 L296.97,492.03 L294.60,493.51 L292.21,494.95 L289.79,496.34 L287.34,497.69 L284.88,499.00 L282.39,500.26 L279.88,501.48 L277.35,502.65 L274.80,503.78 L272.23,504.87 L269.64,505.90 L267.03,506.90 L264.41,507.84 L261.77,508.74 L259.12,509.60 L256.46,510.41 L253.78,511.17 L251.09,511.89 L248.39,512.56 L245.67,513.19 L242.95,513.76 L240.22,514.30 L237.48,514.78 L234.73,515.22 L231.98,515.62 L229.22,515.96 L226.46,516.27 L223.69,516.52 L220.91,516.73 L218.14,516.89 L215.36,517.01 L212.58,517.08 L209.80,517.10 L207.02,517.08 L204.24,517.01 L201.46,516.89 L198.69,516.73 L195.91,516.52 L193.14,516.27 L190.38,515.96 L187.62,515.62 L184.87,515.22 L182.12,514.78 L179.38,514.30 L176.65,513.76 L173.93,513.19 L171.21,512.56 L168.51,511.89 L165.82,511.17 L163.14,510.41 L160.48,509.60 L157.83,508.74 L155.19,507.84 L152.57,506.90 L149.96,505.90 L147.37,504.87 L144.80,503.78 L142.25,502.65 L139.72,501.48 L137.21,500.26 L134.72,499.00 L132.26,497.69 L129.81,496.34 L127.39,494.95 L125.00,493.51 L122.63,492.03 L120.29,490.51 L117.97,488.94 L115.69,487.33 L113.43,485.69 L111.20,484.00 L109.01,482.27 L106.84,480.50 L104.71,478.69 L102.61,476.84 L100.55,474.96 L98.52,473.04 L96.52,471.08 L94.56,469.08 L92.64,467.05 L90.76,464.99 L88.91,462.89 L87.10,460.76 L85.33,458.59 L83.60,456.40 L81.91,454.17 L80.27,451.91 L78.66,449.63 L77.09,447.31 L75.57,444.97 L74.09,442.60 L72.65,440.21 L71.26,437.79 L69.91,435.34 L68.60,432.88 L67.34,430.39 L66.12,427.88 L64.95,425.35 L63.82,422.80 L62.73,420.23 L61.70,417.64 L60.70,415.03 L59.76,412.41 L58.86,409.77 L58.00,407.12 L57.19,404.46 L56.43,401.78 L55.71,399.09 L55.04,396.39 L54.41,393.67 L53.84,390.95 L53.30,388.22 L52.82,385.48 L52.38,382.73 L51.98,379.98 L51.64,377.22 L51.33,374.46 L51.08,371.69 L50.87,368.91 L50.71,366.14 L50.59,363.36 L50.52,360.58 L50.50,357.80 L50.52,355.02 L50.59,352.24 L50.71,349.46 L50.87,346.69 L51.08,343.91 L51.33,341.14 L51.64,338.38 L51.98,335.62 L52.38,332.87 L52.82,330.12 L53.30,327.38 L53.84,324.65 L54.41,321.93 L55.04,319.21 L55.71,316.51 L56.43,313.82 L57.19,311.14 L58.00,308.48 L58.86,305.83 L59.76,303.19 L60.70,300.57 L61.70,297.96 L62.73,295.37 L63.82,292.80 L64.95,290.25 L66.12,287.72 L67.34,285.21 L68.60,282.72 L69.91,280.26 L71.26,277.81 L72.65,275.39 L74.09,273.00 L75.57,270.63 L77.09,268.29 L78.66,265.97 L80.27,263.69 L81.91,261.43 L83.60,259.20 L85.33,257.01 L87.10,254.84 L88.91,252.71 L90.76,250.61 L92.64,248.55 L94.56,246.52 L96.52,244.52 L98.52,242.56 L100.55,240.64 L102.61,238.76 L104.71,236.91 L106.84,235.10 L109.01,233.33 L111.20,231.60 L113.43,229.91 L115.69,228.27 L117.97,226.66 L120.29,225.09 L122.63,223.57 L125.00,222.09 L127.39,220.65 L129.81,219.26 L132.26,217.91 L134.72,216.60 L137.21,215.34 L139.72,214.12 L142.25,212.95 L144.80,211.82 L147.37,210.73 L149.96,209.70 L152.57,208.70 L155.19,207.76 L157.83,206.86 L160.48,206.00 L163.14,205.19 L165.82,204.43 L168.51,203.71 L171.21,203.04 L173.93,202.41 L176.65,201.84 L179.38,201.30 L182.12,200.82 L184.87,200.38 L187.62,199.98 L190.38,199.64 L193.14,199.33 L195.91,199.08 L198.69,198.87 L201.46,198.71 L204.24,198.59 L207.02,198.52 L209.80,198.50 L212.58,198.52 L215.36,198.59 L218.14,198.71 L220.91,198.87 L223.69,199.08 L226.46,199.33 L229.22,199.64 L231.98,199.98 L234.73,200.38 L237.48,200.82 L240.22,201.30 L242.95,201.84 L245.67,202.41 L248.39,203.04 L251.09,203.71 L253.78,204.43 L256.46,205.19 L259.12,206.00 L261.77,206.86 L264.41,207.76 L267.03,208.70 L269.64,209.70 L272.23,210.73 L274.80,211.82 L277.35,212.95 L279.88,214.12 L282.39,215.34 L284.88,216.60 L287.34,217.91 L289.79,219.26 L292.21,220.65 L294.60,222.09 L296.97,223.57 L299.31,225.09 L301.63,226.66 L303.91,228.27 L306.17,229.91 L308.40,231.60 L310.59,233.33 L312.76,235.10 L314.89,236.91 L316.99,238.76 L319.05,240.64 L321.08,242.56 L323.08,244.52 L325.04,246.52 L326.96,248.55 L328.84,250.61 L330.69,252.71 L332.50,254.84 L334.27,257.01 L336.00,259.20 L337.69,261.43 L339.33,263.69 L340.94,265.97 L342.51,268.29 L344.03,270.63 L345.51,273.00 L346.95,275.39 L348.34,277.81 L349.69,280.26 L351.00,282.72 L352.26,285.21 L353.48,287.72 L354.65,290.25 L355.78,292.80 L356.87,295.37 L357.90,297.96 L358.90,300.57 L359.84,303.19 L360.74,305.83 L361.60,308.48 L362.41,311.14 L363.17,313.82 L363.89,316.51 L364.56,319.21 L365.19,321.93 L365.76,324.65 L366.30,327.38 L366.78,330.12 L367.22,332.87 L367.62,335.62 L367.96,338.38 L368.27,341.14 L368.52,343.91 L368.73,346.69 L368.89,349.46 L369.01,352.24 L369.08,355.02Z" stroke-width="2.0"/>
<path d="M370.60,357.80 L370.58,360.61 L370.51,363.41 L370.40,366.22 L370.24,369.02 L370.04,371.82 L369.79,374.62 L369.49,377.41 L369.16,380.20 L368.77,382.98 L368.34,385.76 L367.87,388.52 L367.35,391.29 L366.78,394.04 L366.17,396.79 L365.51,399.52 L364.80,402.25 L364.05,404.96 L363.26,407.66 L362.41,410.35 L361.52,413.02 L360.59,415.68 L359.61,418.33 L358.58,420.95 L357.51,423.56 L356.39,426.15 L355.22,428.73 L354.01,431.28 L352.75,433.81 L351.45,436.32 L350.10,438.80 L348.70,441.26 L347.26,443.70 L345.78,446.11 L344.25,448.49 L342.68,450.84 L341.06,453.17 L339.40,455.46 L337.70,457.73 L335.95,459.96 L334.17,462.16 L332.34,464.32 L330.47,466.46 L328.57,468.55 L326.62,470.61 L324.63,472.63 L322.61,474.62 L320.55,476.57 L318.46,478.47 L316.32,480.34 L314.16,482.17 L311.96,483.95 L309.73,485.70 L307.46,487.40 L305.17,489.06 L302.84,490.68 L300.49,492.25 L298.11,493.78 L295.70,495.26 L293.26,496.70 L290.80,498.10 L288.32,499.45 L285.81,500.75 L283.28,502.01 L280.73,503.22 L278.15,504.39 L275.56,505.51 L272.95,506.58 L270.33,507.61 L267.68,508.59 L265.02,509.52 L262.35,510.41 L259.66,511.26 L256.96,512.05 L254.25,512.80 L251.52,513.51 L248.79,514.17 L246.04,514.78 L243.29,515.35 L240.52,515.87 L237.76,516.34 L234.98,516.77 L232.20,517.16 L229.41,517.49 L226.62,517.79 L223.82,518.04 L221.02,518.24 L218.22,518.40 L215.41,518.51 L212.61,518.58 L209.80,518.60 L206.99,518.58 L204.19,518.51 L201.38,518.40 L198.58,518.24 L195.78,518.04 L192.98,517.79 L190.19,517.49 L187.40,517.16 L184.62,516.77 L181.84,516.34 L179.08,515.87 L176.31,515.35 L173.56,514.78 L170.81,514.17 L168.08,513.51 L165.35,512.80 L162.64,512.05 L159.94,511.26 L157.25,510.41 L154.58,509.52 L151.92,508.59 L149.27,507.61 L146.65,506.58 L144.04,505.51 L141.45,504.39 L138.87,503.22 L136.32,502.01 L133.79,500.75 L131.28,499.45 L128.80,498.10 L126.34,496.70 L123.90,495.26 L121.49,493.78 L119.11,492.25 L116.76,490.68 L114.43,489.06 L112.14,487.40 L109.87,485.70 L107.64,483.95 L105.44,482.17 L103.28,480.34 L101.14,478.47 L99.05,476.57 L96.99,474.62 L94.97,472.63 L92.98,470.61 L91.03,468.55 L89.13,466.46 L87.26,464.32 L85.43,462.16 L83.65,459.96 L81.90,457.73 L80.20,455.46 L78.54,453.17 L76.92,450.84 L75.35,448.49 L73.82,446.11 L72.34,443.70 L70.90,441.26 L69.50,438.80 L68.15,436.32 L66.85,433.81 L65.59,431.28 L64.38,428.73 L63.21,426.15 L62.09,423.56 L61.02,420.95 L59.99,418.33 L59.01,415.68 L58.08,413.02 L57.19,410.35 L56.34,407.66 L55.55,404.96 L54.80,402.25 L54.09,399.52 L53.43,396.79 L52.82,394.04 L52.25,391.29 L51.73,388.52 L51.26,385.76 L50.83,382.98 L50.44,380.20 L50.11,377.41 L49.81,374.62 L49.56,371.82 L49.36,369.02 L49.20,366.22 L49.09,363.41 L49.02,360.61 L49.00,357.80 L49.02,354.99 L49.09,352.19 L49.20,349.38 L49.36,346.58 L49.56,343.78 L49.81,340.98 L50.11,338.19 L50.44,335.40 L50.83,332.62 L51.26,329.84 L51.73,327.08 L52.25,324.31 L52.82,321.56 L53.43,318.81 L54.09,316.08 L54.80,313.35 L55.55,310.64 L56.34,307.94 L57.19,305.25 L58.08,302.58 L59.01,299.92 L59.99,297.27 L61.02,294.65 L62.09,292.04 L63.21,289.45 L64.38,286.87 L65.59,284.32 L66.85,281.79 L68.15,279.28 L69.50,276.80 L70.90,274.34 L72.34,271.90 L73.82,269.49 L75.35,267.11 L76.92,264.76 L78.54,262.43 L80.20,260.14 L81.90,257.87 L83.65,255.64 L85.43,253.44 L87.26,251.28 L89.13,249.14 L91.03,247.05 L92.98,244.99 L94.97,242.97 L96.99,240.98 L99.05,239.03 L101.14,237.13 L103.28,235.26 L105.44,233.43 L107.64,231.65 L109.87,229.90 L112.14,228.20 L114.43,226.54 L116.76,224.92 L119.11,223.35 L121.49,221.82 L123.90,220.34 L126.34,218.90 L128.80,217.50 L131.28,216.15 L133.79,214.85 L136.32,213.59 L138.87,212.38 L141.45,211.21 L144.04,210.09 L146.65,209.02 L149.27,207.99 L151.92,207.01 L154.58,206.08 L157.25,205.19 L159.94,204.34 L162.64,203.55 L165.35,202.80 L168.08,202.09 L170.81,201.43 L173.56,200.82 L176.31,200.25 L179.08,199.73 L181.84,199.26 L184.62,198.83 L187.40,198.44 L190.19,198.11 L192.98,197.81 L195.78,197.56 L198.58,197.36 L201.38,197.20 L204.19,197.09 L206.99,197.02 L209.80,197.00 L212.61,197.02 L215.41,197.09 L218.22,197.20 L221.02,197.36 L223.82,197.56 L226.62,197.81 L229.41,198.11 L232.20,198.44 L234.98,198.83 L237.76,199.26 L240.52,199.73 L243.29,200.25 L246.04,200.82 L248.79,201.43 L251.52,202.09 L254.25,202.80 L256.96,203.55 L259.66,204.34 L262.35,205.19 L265.02,206.08 L267.68,207.01 L270.33,207.99 L272.95,209.02 L275.56,210.09 L278.15,211.21 L280.73,212.38 L283.28,213.59 L285.81,214.85 L288.32,216.15 L290.80,217.50 L293.26,218.90 L295.70,220.34 L298.11,221.82 L300.49,223.35 L302.84,224.92 L305.17,226.54 L307.46,228.20 L309.73,229.90 L311.96,231.65 L314.16,233.43 L316.32,235.26 L318.46,237.13 L320.55,239.03 L322.61,240.98 L324.63,242.97 L326.62,244.99 L328.57,247.05 L330.47,249.14 L332.34,251.28 L334.17,253.44 L335.95,255.64 L337.70,257.87 L339.40,260.14 L341.06,262.43 L342.68,264.76 L344.25,267.11 L345.78,269.49 L347.26,271.90 L348.70,274.34 L350.10,276.80 L351.45,279.28 L352.75,281.79 L354.01,284.32 L355.22,286.87 L356.39,289.45 L357.51,292.04 L358.58,294.65 L359.61,297.27 L360.59,299.92 L361.52,302.58 L362.41,305.25 L363.26,307.94 L364.05,310.64 L364.80,313.35 L365.51,316.08 L366.17,318.81 L366.78,321.56 L367.35,324.31 L367.87,327.08 L368.34,329.84 L368.77,332.62 L369.16,335.40 L369.49,338.19 L369.79,340.98 L370.04,343.78 L370.24,346.58 L370.40,349.38 L370.51,352.19 L370.58,354.99Z" stroke-width="1.1"/>
<path d="M371.00,357.80 L370.98,360.61 L370.91,363.43 L370.81,366.24 L370.66,369.05 L370.47,371.86 L370.23,374.66 L369.96,377.46 L369.63,380.26 L369.27,383.06 L368.86,385.85 L368.41,388.63 L367.91,391.41 L367.37,394.18 L366.79,396.94 L366.16,399.70 L365.48,402.44 L364.76,405.18 L364.00,407.90 L363.19,410.61 L362.33,413.32 L361.42,416.00 L360.47,418.67 L359.47,421.33 L358.43,423.97 L357.33,426.60 L356.19,429.20 L355.00,431.79 L353.77,434.35 L352.49,436.89 L351.16,439.41 L349.78,441.91 L348.36,444.38 L346.88,446.82 L345.37,449.24 L343.80,451.63 L342.19,453.99 L340.53,456.31 L338.83,458.61 L337.08,460.87 L335.29,463.10 L333.46,465.29 L331.58,467.45 L329.66,469.57 L327.70,471.65 L325.69,473.69 L323.65,475.70 L321.57,477.66 L319.45,479.58 L317.29,481.46 L315.10,483.29 L312.87,485.08 L310.61,486.83 L308.31,488.53 L305.99,490.19 L303.63,491.80 L301.24,493.37 L298.82,494.88 L296.38,496.36 L293.91,497.78 L291.41,499.16 L288.89,500.49 L286.35,501.77 L283.79,503.00 L281.20,504.19 L278.60,505.33 L275.97,506.43 L273.33,507.47 L270.67,508.47 L268.00,509.42 L265.32,510.33 L262.61,511.19 L259.90,512.00 L257.18,512.76 L254.44,513.48 L251.70,514.16 L248.94,514.79 L246.18,515.37 L243.41,515.91 L240.63,516.41 L237.85,516.86 L235.06,517.27 L232.26,517.63 L229.46,517.96 L226.66,518.23 L223.86,518.47 L221.05,518.66 L218.24,518.81 L215.43,518.91 L212.61,518.98 L209.80,519.00 L206.99,518.98 L204.17,518.91 L201.36,518.81 L198.55,518.66 L195.74,518.47 L192.94,518.23 L190.14,517.96 L187.34,517.63 L184.54,517.27 L181.75,516.86 L178.97,516.41 L176.19,515.91 L173.42,515.37 L170.66,514.79 L167.90,514.16 L165.16,513.48 L162.42,512.76 L159.70,512.00 L156.99,511.19 L154.28,510.33 L151.60,509.42 L148.93,508.47 L146.27,507.47 L143.63,506.43 L141.00,505.33 L138.40,504.19 L135.81,503.00 L133.25,501.77 L130.71,500.49 L128.19,499.16 L125.69,497.78 L123.22,496.36 L120.78,494.88 L118.36,493.37 L115.97,491.80 L113.61,490.19 L111.29,488.53 L108.99,486.83 L106.73,485.08 L104.50,483.29 L102.31,481.46 L100.15,479.58 L98.03,477.66 L95.95,475.70 L93.91,473.69 L91.90,471.65 L89.94,469.57 L88.02,467.45 L86.14,465.29 L84.31,463.10 L82.52,460.87 L80.77,458.61 L79.07,456.31 L77.41,453.99 L75.80,451.63 L74.23,449.24 L72.72,446.82 L71.24,444.38 L69.82,441.91 L68.44,439.41 L67.11,436.89 L65.83,434.35 L64.60,431.79 L63.41,429.20 L62.27,426.60 L61.17,423.97 L60.13,421.33 L59.13,418.67 L58.18,416.00 L57.27,413.32 L56.41,410.61 L55.60,407.90 L54.84,405.18 L54.12,402.44 L53.44,399.70 L52.81,396.94 L52.23,394.18 L51.69,391.41 L51.19,388.63 L50.74,385.85 L50.33,383.06 L49.97,380.26 L49.64,377.46 L49.37,374.66 L49.13,371.86 L48.94,369.05 L48.79,366.24 L48.69,363.43 L48.62,360.61 L48.60,357.80 L48.62,354.99 L48.69,352.17 L48.79,349.36 L48.94,346.55 L49.13,343.74 L49.37,340.94 L49.64,338.14 L49.97,335.34 L50.33,332.54 L50.74,329.75 L51.19,326.97 L51.69,324.19 L52.23,321.42 L52.81,318.66 L53.44,315.90 L54.12,313.16 L54.84,310.42 L55.60,307.70 L56.41,304.99 L57.27,302.28 L58.18,299.60 L59.13,296.93 L60.13,294.27 L61.17,291.63 L62.27,289.00 L63.41,286.40 L64.60,283.81 L65.83,281.25 L67.11,278.71 L68.44,276.19 L69.82,273.69 L71.24,271.22 L72.72,268.78 L74.23,266.36 L75.80,263.97 L77.41,261.61 L79.07,259.29 L80.77,256.99 L82.52,254.73 L84.31,252.50 L86.14,250.31 L88.02,248.15 L89.94,246.03 L91.90,243.95 L93.91,241.91 L95.95,239.90 L98.03,237.94 L100.15,236.02 L102.31,234.14 L104.50,232.31 L106.73,230.52 L108.99,228.77 L111.29,227.07 L113.61,225.41 L115.97,223.80 L118.36,222.23 L120.78,220.72 L123.22,219.24 L125.69,217.82 L128.19,216.44 L130.71,215.11 L133.25,213.83 L135.81,212.60 L138.40,211.41 L141.00,210.27 L143.63,209.17 L146.27,208.13 L148.93,207.13 L151.60,206.18 L154.28,205.27 L156.99,204.41 L159.70,203.60 L162.42,202.84 L165.16,202.12 L167.90,201.44 L170.66,200.81 L173.42,200.23 L176.19,199.69 L178.97,199.19 L181.75,198.74 L184.54,198.33 L187.34,197.97 L190.14,197.64 L192.94,197.37 L195.74,197.13 L198.55,196.94 L201.36,196.79 L204.17,196.69 L206.99,196.62 L209.80,196.60 L212.61,196.62 L215.43,196.69 L218.24,196.79 L221.05,196.94 L223.86,197.13 L226.66,197.37 L229.46,197.64 L232.26,197.97 L235.06,198.33 L237.85,198.74 L240.63,199.19 L243.41,199.69 L246.18,200.23 L248.94,200.81 L251.70,201.44 L254.44,202.12 L257.18,202.84 L259.90,203.60 L262.61,204.41 L265.32,205.27 L268.00,206.18 L270.67,207.13 L273.33,208.13 L275.97,209.17 L278.60,210.27 L281.20,211.41 L283.79,212.60 L286.35,213.83 L288.89,215.11 L291.41,216.44 L293.91,217.82 L296.38,219.24 L298.82,220.72 L301.24,222.23 L303.63,223.80 L305.99,225.41 L308.31,227.07 L310.61,228.77 L312.87,230.52 L315.10,232.31 L317.29,234.14 L319.45,236.02 L321.57,237.94 L323.65,239.90 L325.69,241.91 L327.70,243.95 L329.66,246.03 L331.58,248.15 L333.46,250.31 L335.29,252.50 L337.08,254.73 L338.83,256.99 L340.53,259.29 L342.19,261.61 L343.80,263.97 L345.37,266.36 L346.88,268.78 L348.36,271.22 L349.78,273.69 L351.16,276.19 L352.49,278.71 L353.77,281.25 L355.00,283.81 L356.19,286.40 L357.33,289.00 L358.43,291.63 L359.47,294.27 L360.47,296.93 L361.42,299.60 L362.33,302.28 L363.19,304.99 L364.00,307.70 L364.76,310.42 L365.48,313.16 L366.16,315.90 L366.79,318.66 L367.37,321.42 L367.91,324.19 L368.41,326.97 L368.86,329.75 L369.27,332.54 L369.63,335.34 L369.96,338.14 L370.23,340.94 L370.47,343.74 L370.66,346.55 L370.81,349.36 L370.91,352.17 L370.98,354.99Z" stroke-width="1.3"/>
</g>
<line x1="215.23" y1="202.19" x2="215.37" y2="198.30" stroke-width="1.4"/>
<line x1="285.52" y1="221.75" x2="287.42" y2="218.35" stroke-width="1.4"/>
<line x1="334.84" y1="265.03" x2="337.98" y2="262.71" stroke-width="1.4"/>
<line x1="363.38" y1="332.18" x2="367.22" y2="331.54" stroke-width="1.4"/>
<line x1="360.29" y1="397.72" x2="364.06" y2="398.72" stroke-width="1.4"/>
<line x1="325.59" y1="461.90" x2="328.49" y2="464.50" stroke-width="1.4"/>
<line x1="272.42" y1="500.35" x2="273.99" y2="503.92" stroke-width="1.4"/>
<line x1="200.60" y1="513.23" x2="200.37" y2="517.12" stroke-width="1.4"/>
<line x1="137.39" y1="495.64" x2="135.58" y2="499.09" stroke-width="1.4"/>
<line x1="82.55" y1="447.52" x2="79.36" y2="449.77" stroke-width="1.4"/>
<line x1="56.89" y1="387.13" x2="53.06" y2="387.86" stroke-width="1.4"/>
<line x1="60.31" y1="314.25" x2="56.57" y2="313.16" stroke-width="1.4"/>
<line x1="91.53" y1="256.53" x2="88.57" y2="254.00" stroke-width="1.4"/>
<line x1="150.65" y1="213.77" x2="149.17" y2="210.17" stroke-width="1.4"/>
<circle cx="209.8" cy="357.8" r="61" stroke-width="3.7"/>
<circle cx="209.8" cy="357.8" r="45.3" stroke-width="2.0"/>
<g transform="translate(209.8,357.8) rotate(0)"><path d="M15.60,-59.90 C18.40,-60.75 26.82,-63.97 32.40,-65.00 C37.98,-66.03 43.92,-66.00 49.10,-66.10 C54.28,-66.20 59.98,-65.87 63.50,-65.60 C67.02,-65.33 67.97,-65.25 70.20,-64.50 C72.43,-63.75 74.87,-62.58 76.90,-61.10 C78.93,-59.62 80.18,-58.00 82.40,-55.60 C84.62,-53.20 87.60,-50.40 90.20,-46.70 C92.80,-43.00 95.97,-37.67 98.00,-33.40 C100.03,-29.13 101.30,-25.18 102.40,-21.10 C103.50,-17.02 104.23,-10.93 104.60,-8.90" stroke-width="1.9"/><path d="M68.00,-64.60 C69.48,-62.35 73.93,-55.93 76.90,-51.10 C79.87,-46.27 83.40,-40.60 85.80,-35.60 C88.20,-30.60 90.02,-25.55 91.30,-21.10 C92.58,-16.65 93.13,-10.93 93.50,-8.90" stroke-width="1.6"/><path d="M71.30,-64.00 C72.97,-61.85 78.15,-55.83 81.30,-51.10 C84.45,-46.37 87.78,-40.60 90.20,-35.60 C92.62,-30.60 94.50,-25.55 95.80,-21.10 C97.10,-16.65 97.63,-10.93 98.00,-8.90" stroke-width="1.6"/><line x1="81.9" y1="-56.7" x2="125.6" y2="-92.1" stroke-width="1.8"/><line x1="61.5" y1="-7.6" x2="155.2" y2="-9.6" stroke-width="2.9"/></g>
<g transform="translate(209.8,357.8) rotate(72)"><path d="M15.60,-59.90 C18.40,-60.75 26.82,-63.97 32.40,-65.00 C37.98,-66.03 43.92,-66.00 49.10,-66.10 C54.28,-66.20 59.98,-65.87 63.50,-65.60 C67.02,-65.33 67.97,-65.25 70.20,-64.50 C72.43,-63.75 74.87,-62.58 76.90,-61.10 C78.93,-59.62 80.18,-58.00 82.40,-55.60 C84.62,-53.20 87.60,-50.40 90.20,-46.70 C92.80,-43.00 95.97,-37.67 98.00,-33.40 C100.03,-29.13 101.30,-25.18 102.40,-21.10 C103.50,-17.02 104.23,-10.93 104.60,-8.90" stroke-width="1.9"/><path d="M68.00,-64.60 C69.48,-62.35 73.93,-55.93 76.90,-51.10 C79.87,-46.27 83.40,-40.60 85.80,-35.60 C88.20,-30.60 90.02,-25.55 91.30,-21.10 C92.58,-16.65 93.13,-10.93 93.50,-8.90" stroke-width="1.6"/><path d="M71.30,-64.00 C72.97,-61.85 78.15,-55.83 81.30,-51.10 C84.45,-46.37 87.78,-40.60 90.20,-35.60 C92.62,-30.60 94.50,-25.55 95.80,-21.10 C97.10,-16.65 97.63,-10.93 98.00,-8.90" stroke-width="1.6"/><line x1="81.9" y1="-56.7" x2="125.6" y2="-92.1" stroke-width="1.8"/><line x1="61.5" y1="-7.6" x2="155.2" y2="-9.6" stroke-width="2.9"/></g>
<g transform="translate(209.8,357.8) rotate(144)"><path d="M15.60,-59.90 C18.40,-60.75 26.82,-63.97 32.40,-65.00 C37.98,-66.03 43.92,-66.00 49.10,-66.10 C54.28,-66.20 59.98,-65.87 63.50,-65.60 C67.02,-65.33 67.97,-65.25 70.20,-64.50 C72.43,-63.75 74.87,-62.58 76.90,-61.10 C78.93,-59.62 80.18,-58.00 82.40,-55.60 C84.62,-53.20 87.60,-50.40 90.20,-46.70 C92.80,-43.00 95.97,-37.67 98.00,-33.40 C100.03,-29.13 101.30,-25.18 102.40,-21.10 C103.50,-17.02 104.23,-10.93 104.60,-8.90" stroke-width="1.9"/><path d="M68.00,-64.60 C69.48,-62.35 73.93,-55.93 76.90,-51.10 C79.87,-46.27 83.40,-40.60 85.80,-35.60 C88.20,-30.60 90.02,-25.55 91.30,-21.10 C92.58,-16.65 93.13,-10.93 93.50,-8.90" stroke-width="1.6"/><path d="M71.30,-64.00 C72.97,-61.85 78.15,-55.83 81.30,-51.10 C84.45,-46.37 87.78,-40.60 90.20,-35.60 C92.62,-30.60 94.50,-25.55 95.80,-21.10 C97.10,-16.65 97.63,-10.93 98.00,-8.90" stroke-width="1.6"/><line x1="81.9" y1="-56.7" x2="125.6" y2="-92.1" stroke-width="1.8"/><line x1="61.5" y1="-7.6" x2="155.2" y2="-9.6" stroke-width="2.9"/></g>
<g transform="translate(209.8,357.8) rotate(216)"><path d="M15.60,-59.90 C18.40,-60.75 26.82,-63.97 32.40,-65.00 C37.98,-66.03 43.92,-66.00 49.10,-66.10 C54.28,-66.20 59.98,-65.87 63.50,-65.60 C67.02,-65.33 67.97,-65.25 70.20,-64.50 C72.43,-63.75 74.87,-62.58 76.90,-61.10 C78.93,-59.62 80.18,-58.00 82.40,-55.60 C84.62,-53.20 87.60,-50.40 90.20,-46.70 C92.80,-43.00 95.97,-37.67 98.00,-33.40 C100.03,-29.13 101.30,-25.18 102.40,-21.10 C103.50,-17.02 104.23,-10.93 104.60,-8.90" stroke-width="1.9"/><path d="M68.00,-64.60 C69.48,-62.35 73.93,-55.93 76.90,-51.10 C79.87,-46.27 83.40,-40.60 85.80,-35.60 C88.20,-30.60 90.02,-25.55 91.30,-21.10 C92.58,-16.65 93.13,-10.93 93.50,-8.90" stroke-width="1.6"/><path d="M71.30,-64.00 C72.97,-61.85 78.15,-55.83 81.30,-51.10 C84.45,-46.37 87.78,-40.60 90.20,-35.60 C92.62,-30.60 94.50,-25.55 95.80,-21.10 C97.10,-16.65 97.63,-10.93 98.00,-8.90" stroke-width="1.6"/><line x1="81.9" y1="-56.7" x2="125.6" y2="-92.1" stroke-width="1.8"/><line x1="61.5" y1="-7.6" x2="155.2" y2="-9.6" stroke-width="2.9"/></g>
<g transform="translate(209.8,357.8) rotate(288)"><path d="M15.60,-59.90 C18.40,-60.75 26.82,-63.97 32.40,-65.00 C37.98,-66.03 43.92,-66.00 49.10,-66.10 C54.28,-66.20 59.98,-65.87 63.50,-65.60 C67.02,-65.33 67.97,-65.25 70.20,-64.50 C72.43,-63.75 74.87,-62.58 76.90,-61.10 C78.93,-59.62 80.18,-58.00 82.40,-55.60 C84.62,-53.20 87.60,-50.40 90.20,-46.70 C92.80,-43.00 95.97,-37.67 98.00,-33.40 C100.03,-29.13 101.30,-25.18 102.40,-21.10 C103.50,-17.02 104.23,-10.93 104.60,-8.90" stroke-width="1.9"/><path d="M68.00,-64.60 C69.48,-62.35 73.93,-55.93 76.90,-51.10 C79.87,-46.27 83.40,-40.60 85.80,-35.60 C88.20,-30.60 90.02,-25.55 91.30,-21.10 C92.58,-16.65 93.13,-10.93 93.50,-8.90" stroke-width="1.6"/><path d="M71.30,-64.00 C72.97,-61.85 78.15,-55.83 81.30,-51.10 C84.45,-46.37 87.78,-40.60 90.20,-35.60 C92.62,-30.60 94.50,-25.55 95.80,-21.10 C97.10,-16.65 97.63,-10.93 98.00,-8.90" stroke-width="1.6"/><line x1="81.9" y1="-56.7" x2="125.6" y2="-92.1" stroke-width="1.8"/><line x1="61.5" y1="-7.6" x2="155.2" y2="-9.6" stroke-width="2.9"/></g>
</g>
<g fill="none" stroke="#373737" stroke-width="1.9" stroke-linejoin="miter">
<rect x="628.5" y="190.6" width="234.4" height="334.5"/>
<path d="M660,191.9 H831.7 M660,523.9 H831.7" stroke-width="1.2"/>
<rect x="660" y="224.9" width="171.7" height="91.8"/>
<path d="M660,253.4 H831.7"/>
<path d="M628.5,232.1 H660 M831.7,232.1 H862.9"/>
<rect x="660" y="399.3" width="171.7" height="91.4"/>
<path d="M660,461.7 H831.7"/>
<path d="M628.5,483.7 H660 M831.7,483.7 H862.9"/>
</g>
<g fill="none" stroke="#62a5a1" stroke-width="1.9">
<path d="M337.3,190.2 H563.5 M337.3,525.3 H563.5 M547.3,190.2 V346.6 M547.3,369 V525.3"/>
<path d="M345.4,223.3 H470.2 M347.5,492.3 H470.2 M454.9,223.3 V346.6 M454.9,369 V492.3"/>
<path d="M75.5,492.2 V617.8 M344.5,495.4 V617.8 M75.5,602.2 H180.3 M239,602.2 H344.5"/>
<path d="M42.3,485.5 V710 M377.2,485.5 V710 M42.2,694.6 H180.3 M239,694.6 H377.2"/>
<path d="M628.8,531.7 V616.7 M862.9,531.7 V616.7 M628.8,602.6 H720 M778.3,602.6 H862.9"/>
</g>
<defs><filter id="gs" x="-5%" y="-5%" width="110%" height="110%" color-interpolation-filters="sRGB"><feOffset dx="0" dy="0"/></filter></defs>
<g font-family="Liberation Sans, sans-serif" filter="url(#gs)">
<text x="210.1" y="608.8" text-anchor="middle" font-size="16.4" word-spacing="-1.6" textLength="49.3" lengthAdjust="spacingAndGlyphs" fill="#70aaad">32 mm</text>
<text x="210.1" y="701.3" text-anchor="middle" font-size="16.4" word-spacing="-1.6" textLength="49.3" lengthAdjust="spacingAndGlyphs" fill="#70aaad">40 mm</text>
<text x="454.6" y="364.4" text-anchor="middle" font-size="16.4" word-spacing="-1.6" textLength="49.3" lengthAdjust="spacingAndGlyphs" fill="#70aaad">32 mm</text>
<text x="547.5" y="364.4" text-anchor="middle" font-size="16.4" word-spacing="-1.6" textLength="49.3" lengthAdjust="spacingAndGlyphs" fill="#70aaad">40 mm</text>
<text x="749.3" y="608.7" text-anchor="middle" font-size="16.4" word-spacing="-1.6" textLength="49.3" lengthAdjust="spacingAndGlyphs" fill="#70aaad">28 mm</text>
</g>
</svg>
</body></html>
